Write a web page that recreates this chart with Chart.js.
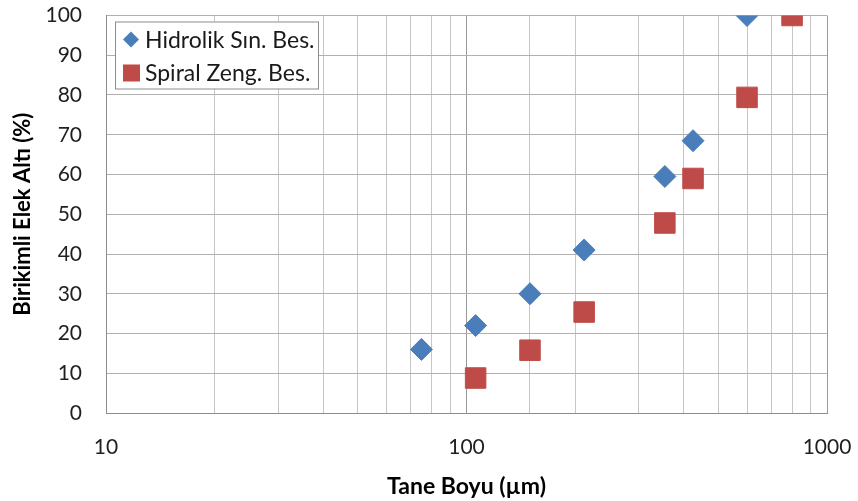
<!DOCTYPE html>
<html>
<head>
<meta charset="utf-8">
<script src="https://cdn.jsdelivr.net/npm/chart.js@4"></script>
<style>
  html, body { margin: 0; padding: 0; background: #fff; }
  #wrap { width: 858px; height: 501px; }
</style>
</head>
<body>
<div id="wrap"><canvas id="myChart" width="858" height="501"></canvas></div>
<script>
// sieve sizes (µm) and cumulative passing (%)
const hidrolikSize = [75, 106, 150, 212, 355, 425, 600];
const hidrolikPass = [16, 22, 30, 41, 59.5, 68.5, 100];
const spiralSize = [106, 150, 212, 355, 425, 600, 800];
const spiralPass = [8.8, 15.8, 25.4, 47.8, 59, 79.4, 100];
const seriesNames = ['Hidrolik Sın. Bes.', 'Spiral Zeng. Bes.'];
const yTicks = [0, 10, 20, 30, 40, 50, 60, 70, 80, 90, 100];

const FONT = 'Lato, "Open Sans", sans-serif';

function toPoints(xs, ys) {
    let pts = [];
    for (let i = 0; i < xs.length; i++) {
        pts.push({x: xs[i], y: ys[i]});
    }
    return pts;
}

// legend drawn inside the plot, like the excel one
const innerLegend = {
    id: 'innerLegend',
    afterDraw(chart) {
        const c = chart.ctx;
        const area = chart.chartArea;
        const x0 = area.left + 9, y0 = area.top + 6;
        const w = 203, h = 67;
        c.save();
        c.fillStyle = '#fff';
        c.fillRect(x0, y0, w, h);
        c.strokeStyle = '#8c8c8c';
        c.lineWidth = 1;
        c.strokeRect(x0 + 0.5, y0 + 0.5, w, h);
        c.font = '23px ' + FONT;
        c.textBaseline = 'middle';
        chart.data.datasets.forEach(function(ds, i) {
            const cy = y0 + 18 + i * 33;
            const cx = x0 + 16;
            c.fillStyle = ds.backgroundColor;
            c.beginPath();
            if (ds.pointStyle === 'rectRot') {
                c.moveTo(cx, cy - 8);
                c.lineTo(cx + 8, cy);
                c.lineTo(cx, cy + 8);
                c.lineTo(cx - 8, cy);
                c.closePath();
                c.fill();
            } else {
                c.fillRect(cx - 8, cy - 8, 17, 17);
            }
            c.fillStyle = '#1a1a1a';
            c.fillText(ds.label, x0 + 30, cy + 1);
        });
        c.restore();
    }
};

const ctx = document.getElementById('myChart').getContext('2d');
let myChart = new Chart(ctx, {
    type: 'scatter',
    data: {
        datasets: [{
            label: seriesNames[0],
            data: toPoints(hidrolikSize, hidrolikPass),
            backgroundColor: '#4a7ebb',
            borderColor: '#4a7ebb',
            pointStyle: 'rectRot',
            pointRadius: 11,
            pointHoverRadius: 11
        }, {
            label: seriesNames[1],
            data: toPoints(spiralSize, spiralPass),
            backgroundColor: '#be4b48',
            borderColor: '#be4b48',
            pointStyle: 'rect',
            pointRadius: 14.5,
            pointHoverRadius: 14.5
        }]
    },
    options: {
        responsive: false,
        animation: false,
        layout: {
            padding: {top: 14, right: 31, bottom: 0, left: 0}
        },
        plugins: {
            legend: {display: false},
            tooltip: {enabled: false}
        },
        scales: {
            x: {
                type: 'logarithmic',
                min: 10,
                max: 1000,
                afterFit: function(scale) {
                    scale.height = 88;
                    scale.paddingLeft = 0;
                    scale.paddingRight = 0;
                },
                grid: {
                    drawTicks: false,
                    color: function(c) {
                        let v = c.tick ? c.tick.value : 0;
                        return Number.isInteger(Math.log10(v)) ? '#9a9a9a' : '#c6c6c6';
                    }
                },
                border: {color: '#8c8c8c'},
                ticks: {
                    autoSkip: false,
                    maxRotation: 0,
                    padding: 22,
                    color: '#1f1f1f',
                    font: {family: FONT, size: 21},
                    callback: function(value) {
                        let l = Math.log10(value);
                        return Math.abs(l - Math.round(l)) < 1e-9 ? String(value) : '';
                    }
                },
                title: {
                    display: true,
                    text: 'Tane Boyu (µm)',
                    color: '#000',
                    font: {family: FONT, size: 23, weight: 'bold'},
                    padding: {top: 0, bottom: 1}
                }
            },
            y: {
                min: 0,
                max: 100,
                afterFit: function(scale) {
                    scale.width = 106;
                    scale.paddingTop = 0;
                    scale.paddingBottom = 0;
                },
                afterBuildTicks: function(scale) {
                    scale.ticks = yTicks.map(function(v) { return {value: v}; });
                },
                grid: {drawTicks: false, color: '#b0b0b0'},
                border: {color: '#8c8c8c'},
                ticks: {
                    padding: 24,
                    color: '#1f1f1f',
                    font: {family: FONT, size: 21}
                },
                title: {
                    display: true,
                    text: 'Birikimli Elek Altı (%)',
                    color: '#000',
                    font: {family: FONT, size: 22, weight: 'bold'},
                    padding: {top: 10, bottom: 0}
                }
            }
        }
    },
    plugins: [innerLegend]
});
</script>
</body>
</html>
